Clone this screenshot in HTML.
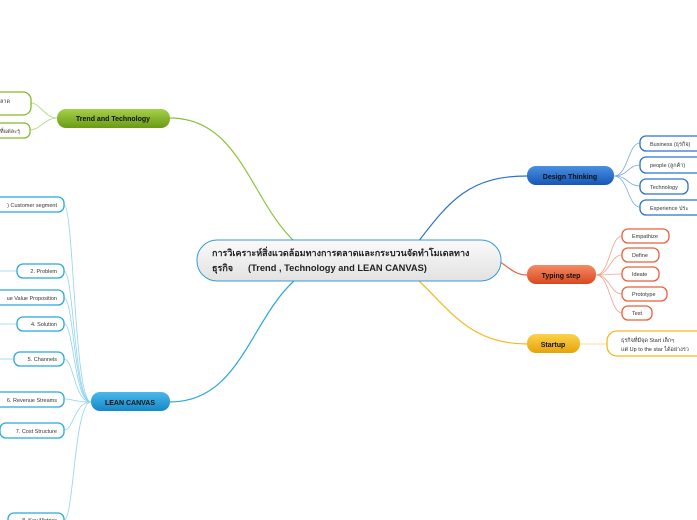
<!DOCTYPE html>
<html><head><meta charset="utf-8"><style>
body{margin:0;background:#fff;}
svg{display:block;font-family:"Liberation Sans","Noto Sans CJK SC",sans-serif;}
</style></head><body>
<svg width="697" height="520" viewBox="0 0 697 520" xmlns="http://www.w3.org/2000/svg">
<defs>
<linearGradient id="gc" x1="0" y1="0" x2="0" y2="1"><stop offset="0" stop-color="#fafafa"/><stop offset="1" stop-color="#e2e2e2"/></linearGradient>
<linearGradient id="gg" x1="0" y1="0" x2="0" y2="1"><stop offset="0" stop-color="#a6d04a"/><stop offset="1" stop-color="#6a9a14"/></linearGradient>
<linearGradient id="gb" x1="0" y1="0" x2="0" y2="1"><stop offset="0" stop-color="#4a90e0"/><stop offset="1" stop-color="#1656b8"/></linearGradient>
<linearGradient id="go" x1="0" y1="0" x2="0" y2="1"><stop offset="0" stop-color="#f58a66"/><stop offset="1" stop-color="#d9481e"/></linearGradient>
<linearGradient id="gy" x1="0" y1="0" x2="0" y2="1"><stop offset="0" stop-color="#fcd24a"/><stop offset="1" stop-color="#e5a30a"/></linearGradient>
<linearGradient id="gl" x1="0" y1="0" x2="0" y2="1"><stop offset="0" stop-color="#4cb8ea"/><stop offset="1" stop-color="#1488c8"/></linearGradient>
</defs>
<g fill="none" stroke-width="1.2">
<path d="M170 118 C240 118 250 200 295 242" stroke="#8cc23a"/>
<path d="M527 176 C470 176 450 200 418 242" stroke="#2a70d0"/>
<path d="M527 275 C515 275 510 268 500 262" stroke="#e8603a"/>
<path d="M527 344 C470 344 450 310 418 280" stroke="#f5b820"/>
<path d="M170 402 C240 402 250 320 295 280" stroke="#28a8e0"/>
</g>
<g fill="none" stroke="#a8d870" stroke-width="0.8">
<path d="M57 118 C45 118 40 103 31 103"/><path d="M57 118 C45 118 40 130 30 130"/>
</g>
<g fill="none" stroke="#7aaae8" stroke-width="0.8">
<path d="M614 176 C628 176 628 143 640 143"/><path d="M614 176 C628 176 628 165 640 165"/>
<path d="M614 176 C628 176 628 186 640 186"/><path d="M614 176 C628 176 628 207 640 207"/>
</g>
<g fill="none" stroke="#f3a08a" stroke-width="0.8">
<path d="M596 275 C610 275 610 236 622 236"/><path d="M596 275 C610 275 610 255 622 255"/>
<path d="M596 275 C610 275 610 274 622 274"/><path d="M596 275 C610 275 610 294 622 294"/>
<path d="M596 275 C610 275 610 313 622 313"/>
</g>
<path d="M580 344 L607 344" stroke="#fbd060" stroke-width="0.8"/>
<g fill="none" stroke="#8fd2f2" stroke-width="0.8">
<path d="M91 402 C74 402 74 205 64 205"/><path d="M91 402 C74 402 74 271 64 271"/>
<path d="M91 402 C74 402 74 298 64 298"/><path d="M91 402 C74 402 74 324 64 324"/>
<path d="M91 402 C74 402 74 359 64 359"/><path d="M91 402 C74 402 74 399 64 399"/>
<path d="M91 402 C74 402 74 430 64 430"/><path d="M91 402 C74 402 74 520 64 520"/>
<path d="M0 271 L17 271"/><path d="M0 324 L17 324"/><path d="M0 359 L14 359"/>
</g>
<rect x="197" y="240" width="304" height="41" rx="20" fill="url(#gc)" stroke="#3a98dc" stroke-width="1"/>
<text x="212" y="256" font-size="9" font-weight="bold" fill="#222">การวิเคราะห์สิ่งแวดล้อมทางการตลาดและกระบวนจัดทำโมเดลทาง</text>
<text x="212" y="271" font-size="9" font-weight="bold" fill="#222">ธุรกิจ</text>
<text x="248" y="271" font-size="9.3" font-weight="bold" fill="#222">(Trend , Technology and LEAN CANVAS)</text>
<g font-size="7" font-weight="bold" fill="#111" text-anchor="middle">
<rect x="57" y="109" width="113" height="19" rx="9" fill="url(#gg)"/><text x="113" y="121">Trend  and Technology</text>
<rect x="527" y="166" width="87" height="19" rx="9" fill="url(#gb)"/><text x="570" y="179">Design Thinking</text>
<rect x="527" y="265" width="69" height="19" rx="9" fill="url(#go)"/><text x="561" y="278">Typing step</text>
<rect x="527" y="334" width="53" height="19" rx="9" fill="url(#gy)"/><text x="553" y="347">Startup</text>
<rect x="91" y="392" width="79" height="19" rx="9" fill="url(#gl)"/><text x="130" y="405">LEAN CANVAS</text>
</g>
<g font-size="5.5" fill="#333" stroke-width="1.3">
<rect x="-10" y="92" width="41" height="23" rx="8" fill="#fff" stroke="#86b82a"/><text x="0" y="103">ลาด</text>
<rect x="-10" y="123" width="40" height="15" rx="6" fill="#fff" stroke="#86b82a"/><text x="0" y="133">ที่แต่ละรุ</text>
<g stroke="#2a70d0">
<rect x="640" y="136" width="70" height="15" rx="6" fill="#fff"/><rect x="640" y="157" width="70" height="16" rx="6" fill="#fff"/>
<rect x="640" y="179" width="48" height="15" rx="6" fill="#fff"/><rect x="640" y="200" width="70" height="15" rx="6" fill="#fff"/>
</g>
<text x="650" y="146">Business (ธุรกิจ)</text><text x="650" y="167">people (ลูกค้า)</text>
<text x="650" y="189">Technology</text><text x="650" y="210">Experience ประ</text>
<g stroke="#e8603a" fill="#fff">
<rect x="622" y="229" width="47" height="14" rx="6"/><rect x="622" y="248" width="37" height="14" rx="6"/>
<rect x="622" y="267" width="37" height="14" rx="6"/><rect x="622" y="287" width="45" height="14" rx="6"/>
<rect x="622" y="306" width="30" height="14" rx="6"/>
</g>
<text x="632" y="238">Empathize</text><text x="632" y="257">Define</text><text x="632" y="276">Ideate</text>
<text x="632" y="296">Prototype</text><text x="632" y="315">Test</text>
<rect x="607" y="331" width="100" height="25" rx="10" fill="#fff" stroke="#f5b820"/>
<text x="621" y="342">ธุรกิจที่มีจุด Start เล็กๆ</text><text x="621" y="351">แต่ Up to the star ได้อย่างรว</text>
<g stroke="#28a8e0" fill="#fff">
<rect x="-10" y="197" width="74" height="15" rx="6"/><rect x="17" y="264" width="47" height="14" rx="6"/>
<rect x="-10" y="290" width="74" height="15" rx="6"/><rect x="17" y="317" width="47" height="14" rx="6"/>
<rect x="14" y="352" width="50" height="14" rx="6"/><rect x="-10" y="392" width="74" height="15" rx="6"/>
<rect x="0" y="423" width="64" height="15" rx="6"/><rect x="8" y="513" width="56" height="15" rx="6"/>
</g>
<g text-anchor="end">
<text x="57" y="207">) Customer segment</text><text x="57" y="273">2. Problem</text>
<text x="57" y="300">ue Value Proposition</text><text x="57" y="326">4. Solution</text>
<text x="57" y="361">5. Channels</text><text x="57" y="402">6. Revenue Streams</text>
<text x="57" y="433">7. Cost Structure</text><text x="57" y="522">8. Key Metrics</text>
</g>
</g>
</svg>
</body></html>
